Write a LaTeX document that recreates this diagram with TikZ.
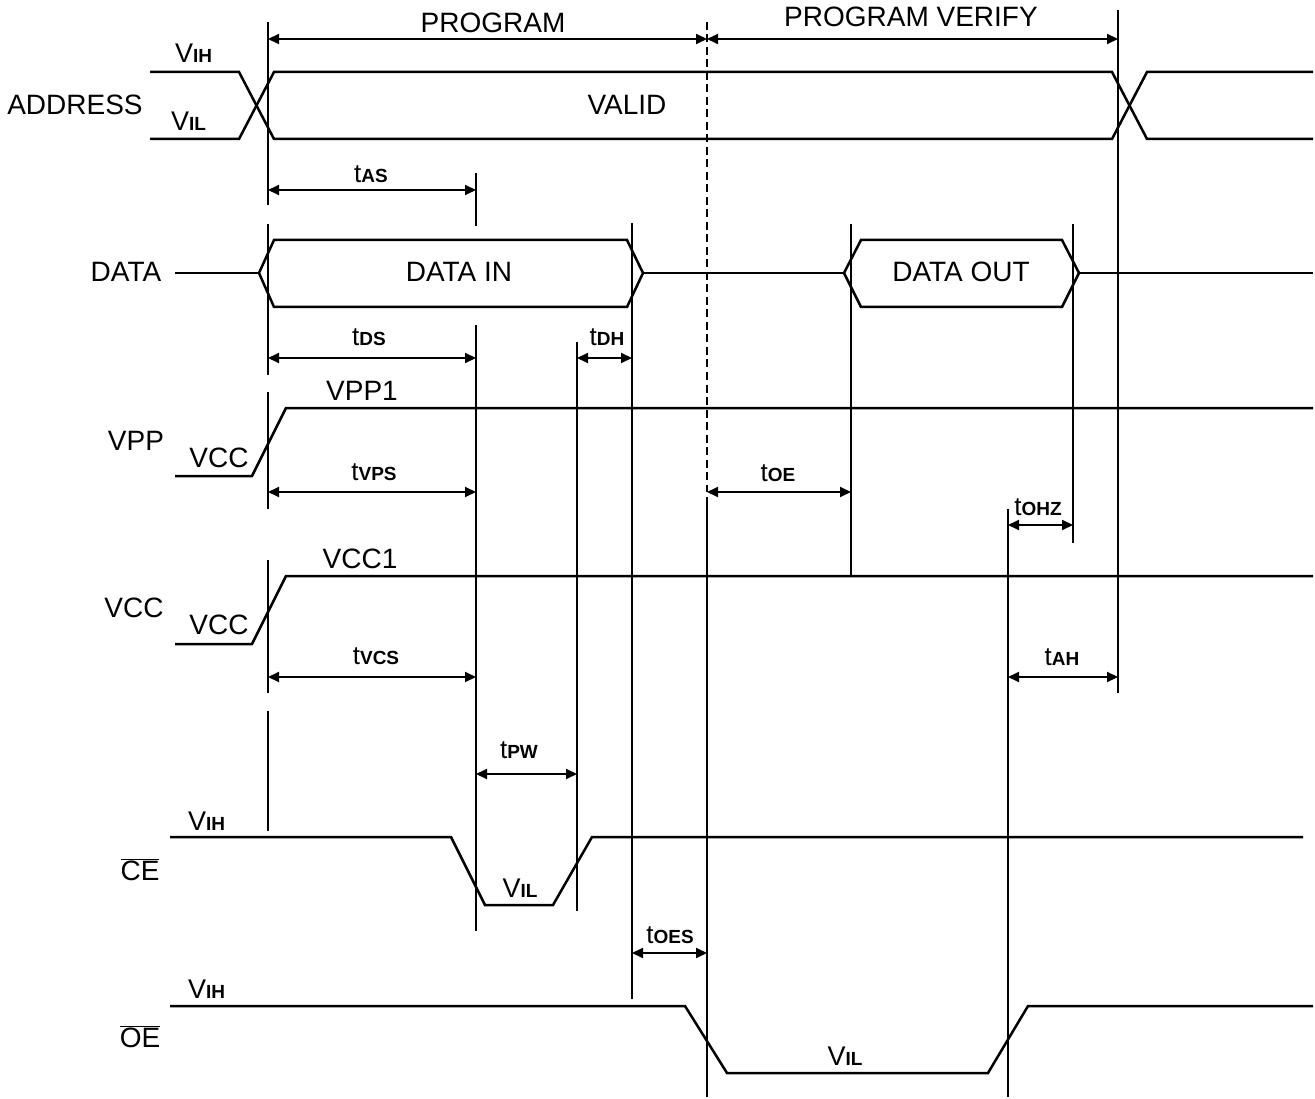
\documentclass[tikz,border=0pt]{standalone}
\usepackage{fontspec}
\setmainfont{Liberation Sans}
\usetikzlibrary{arrows.meta}
\newcommand\sbx[1]{{\fontsize{19}{19}\selectfont\bfseries #1}}
\newcommand\lbig{\fontsize{28}{30}\selectfont}
\newcommand\tlab[1]{{\fontsize{26}{26}\selectfont t}\sbx{#1}}
\newcommand\vlab[1]{{\fontsize{27}{27}\selectfont V}\sbx{#1}}
\begin{document}
\begin{tikzpicture}[x=1pt,y=-1pt,
  sig/.style={line width=2.5pt, line join=miter},
  tline/.style={line width=1.3pt},
  dim/.style={line width=2pt, {Triangle[length=11pt,width=10pt]}-{Triangle[length=11pt,width=10pt]}},
  lab/.style={inner sep=0pt, anchor=base, font=\lbig},
  tl/.style={inner sep=0pt, anchor=base},
]
\useasboundingbox (0,0) rectangle (1315,1099);

% ---------- timing (vertical) lines ----------
\draw[tline] (268,22) -- (268,205);
\draw[tline] (268,224) -- (268,375);
\draw[tline] (268,392) -- (268,509);
\draw[tline] (268,560) -- (268,693);
\draw[tline] (268,711) -- (268,831);
\draw[tline] (476,173) -- (476,226);
\draw[tline] (476,325) -- (476,931);
\draw[tline] (577,342) -- (577,911);
\draw[tline] (632,223) -- (632,999);
\draw[tline, dash pattern=on 8pt off 4.5pt] (707,22) -- (707,492);
\draw[tline] (707,497) -- (707,1097);
\draw[tline] (851,224) -- (851,576);
\draw[tline] (1073,224) -- (1073,543);
\draw[tline] (1118,10) -- (1118,693);
\draw[tline] (1008,509) -- (1008,1097);

% ---------- signals ----------
% ADDRESS
\draw[sig] (150,72) -- (239,72) -- (274,139) -- (1112,139) -- (1147,72) -- (1313,72);
\draw[sig] (150,139) -- (239,139) -- (274,72) -- (1112,72) -- (1147,139) -- (1313,139);
% DATA
\draw[sig] (175,273) -- (259,273);
\draw[sig] (259,273) -- (274,240) -- (627,240) -- (643,273) -- (627,307) -- (274,307) -- cycle;
\draw[sig] (643,273) -- (844,273);
\draw[sig] (844,273) -- (861,240) -- (1062,240) -- (1079,273) -- (1062,307) -- (861,307) -- cycle;
\draw[sig] (1079,273) -- (1313,273);
% VPP
\draw[sig] (175,476) -- (252,476) -- (286,408) -- (1313,408);
% VCC
\draw[sig] (175,644) -- (252,644) -- (286,576) -- (1313,576);
% CE
\draw[sig] (170,837) -- (451,837) -- (485,905) -- (553,905) -- (592,837) -- (1303,837);
% OE
\draw[sig] (170,1006) -- (685,1006) -- (727,1073) -- (988,1073) -- (1028,1006) -- (1313,1006);

% ---------- dimension arrows ----------
\coordinate (pgA) at (268,39);  \coordinate (pgB) at (707,39);  \coordinate (pvB) at (1118,39);
\coordinate (asA) at (268,190); \coordinate (asB) at (476,190);
\coordinate (dsA) at (268,358); \coordinate (dsB) at (476,358);
\coordinate (dhA) at (577,358); \coordinate (dhB) at (632,358);
\coordinate (vpA) at (268,492); \coordinate (vpB) at (476,492);
\coordinate (oeA) at (707,492); \coordinate (oeB) at (851,492);
\coordinate (ohA) at (1008,525);\coordinate (ohB) at (1073,525);
\coordinate (vcA) at (268,677); \coordinate (vcB) at (476,677);
\coordinate (ahA) at (1008,677);\coordinate (ahB) at (1118,677);
\coordinate (pwA) at (476,774); \coordinate (pwB) at (577,774);
\coordinate (esA) at (632,953); \coordinate (esB) at (707,953);
\draw[dim] (pgA) -- (pgB);
\draw[dim] (pgB) -- (pvB);
\draw[dim] (asA) -- (asB);
\draw[dim] (dsA) -- (dsB);
\draw[dim] (dhA) -- (dhB);
\draw[dim] (vpA) -- (vpB);
\draw[dim] (oeA) -- (oeB);
\draw[dim] (ohA) -- (ohB);
\draw[dim] (vcA) -- (vcB);
\draw[dim] (ahA) -- (ahB);
\draw[dim] (pwA) -- (pwB);
\draw[dim] (esA) -- (esB);

% ---------- labels ----------
\node[lab] (program) at (493,33) {PROGRAM};
\node[lab] (verify) at (911,27) {PROGRAM VERIFY};
\node[lab] (address) at (75,115) {ADDRESS};
\node[tl, anchor=base west] (avih) at (175,63) {\vlab{IH}};
\node[tl, anchor=base west] (avil) at (171,131) {\vlab{IL}};
\node[lab] (valid) at (627,115) {VALID};
\node[tl] (tas) at (371,183) {\tlab{AS}};

\node[lab] (data) at (126,282) {DATA};
\node[lab] (datain) at (459,282) {DATA IN};
\node[lab] (dataout) at (961,282) {DATA OUT};
\node[tl] (tds) at (369,346) {\tlab{DS}};
\node[tl] (tdh) at (607,346) {\tlab{DH}};

\node[lab] (vpp1) at (362,400) {VPP1};
\node[lab] (vpp) at (136,450) {VPP};
\node[lab] (vppcc) at (219,467) {VCC};
\node[tl] (tvps) at (374,480) {\tlab{VPS}};
\node[tl] (toe) at (778,481) {\tlab{OE}};
\node[tl] (tohz) at (1038,515) {\tlab{OHZ}};

\node[lab] (vcc1) at (360,568) {VCC1};
\node[lab] (vcc) at (134,617) {VCC};
\node[lab] (vcccc) at (219,634) {VCC};
\node[tl] (tvcs) at (376,664) {\tlab{VCS}};
\node[tl] (tah) at (1062,665) {\tlab{AH}};
\node[tl] (tpw) at (519,758) {\tlab{PW}};

\node[tl, anchor=base west] (cevih) at (188,830) {\vlab{IH}};
\node[lab] (ce) at (140,880) {$\overline{\hbox{\lbig CE}}$};
\node[tl] (cevil) at (520,897) {\vlab{IL}};
\node[tl] (toes) at (670,943) {\tlab{OES}};

\node[tl, anchor=base west] (oevih) at (188,998) {\vlab{IH}};
\node[lab] (oe) at (140,1047) {$\overline{\hbox{\lbig OE}}$};
\node[tl] (oevil) at (845,1065) {\vlab{IL}};
\end{tikzpicture}
\end{document}
